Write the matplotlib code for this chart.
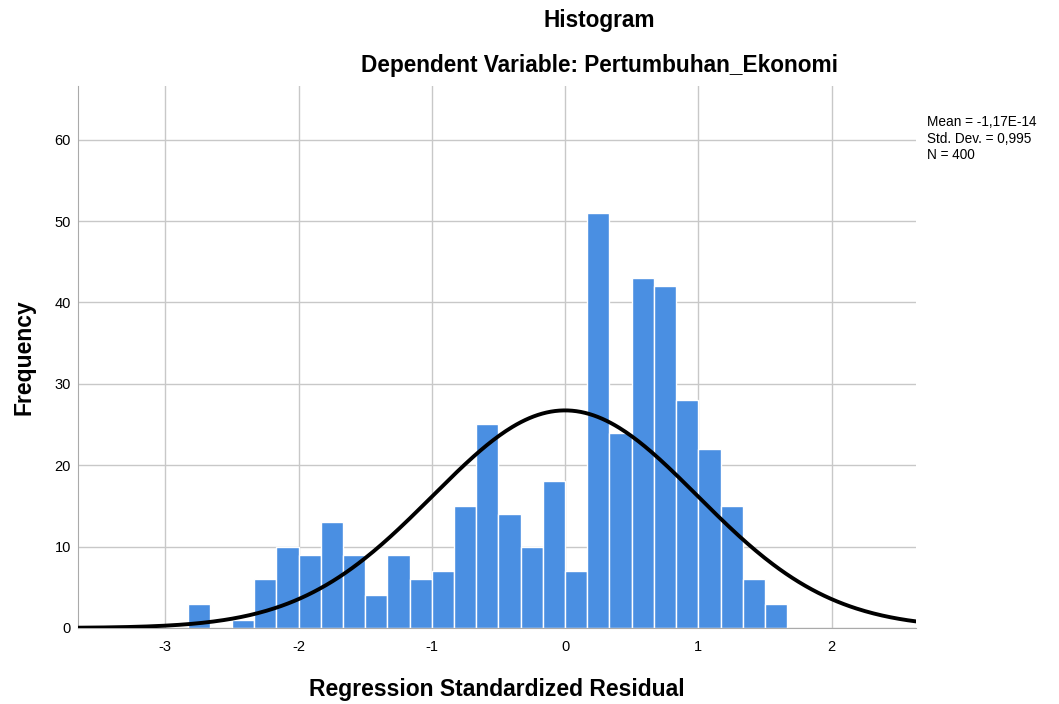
import numpy as np
import matplotlib.pyplot as plt

plt.rcParams['font.family'] = ['Liberation Sans', 'DejaVu Sans']
plt.rcParams['axes.unicode_minus'] = False

# histogram bins (width 1/6) and counts
bin_width = 1 / 6
first_edge = -17 / 6
counts = [3, 0, 1, 6, 10, 9, 13, 9, 4, 9, 6, 7, 15, 25, 14, 10, 18, 7,
          51, 24, 43, 42, 28, 22, 15, 6, 3]
mean = -1.17e-14
std = 0.995
n = 400

edges = first_edge + bin_width * np.arange(len(counts) + 1)

fig = plt.figure(figsize=(10.59, 7.04), dpi=100)
ax = fig.add_axes([0.0737, 0.108, 0.7913, 0.770])

ax.bar(edges[:-1], counts, width=bin_width, align='edge',
       color='#4a8fe2', edgecolor='white', linewidth=1.0, zorder=2)

# normal curve scaled to counts
xs = np.linspace(-3.7, 2.7, 400)
pdf = np.exp(-0.5 * ((xs - mean) / std) ** 2) / (std * np.sqrt(2 * np.pi))
ax.plot(xs, n * bin_width * pdf, color='black', lw=2.8, zorder=3)

ax.set_xlim(-3.655, 2.634)
ax.set_ylim(0, 66.6)
ax.set_xticks([-3, -2, -1, 0, 1, 2])
ax.set_yticks([0, 10, 20, 30, 40, 50, 60])
ax.tick_params(length=0, labelsize=10.5)
ax.tick_params(axis='x', pad=9)
ax.tick_params(axis='y', pad=5)
ax.grid(True, color='#c8c8c8', lw=1.0, zorder=0)
ax.set_axisbelow(True)
for side in ['top', 'right']:
    ax.spines[side].set_visible(False)
for side in ['left', 'bottom']:
    ax.spines[side].set_color('#aaaaaa')

ax.set_xlabel('Regression Standardized Residual', fontsize=16.5, fontweight='bold', labelpad=17)
ax.set_ylabel('Frequency', fontsize=16.5, fontweight='bold', labelpad=14)

fig.text(0.566, 0.971, 'Histogram', ha='center', va='center', fontsize=16.3, fontweight='bold')
fig.text(0.566, 0.907, 'Dependent Variable: Pertumbuhan_Ekonomi', ha='center', va='center',
         fontsize=16.3, fontweight='bold')

fig.text(0.875, 0.836, 'Mean = -1,17E-14\nStd. Dev. = 0,995\nN = 400',
         ha='left', va='top', fontsize=9.8, linespacing=1.2)

fig.savefig('out.png', dpi=100)
